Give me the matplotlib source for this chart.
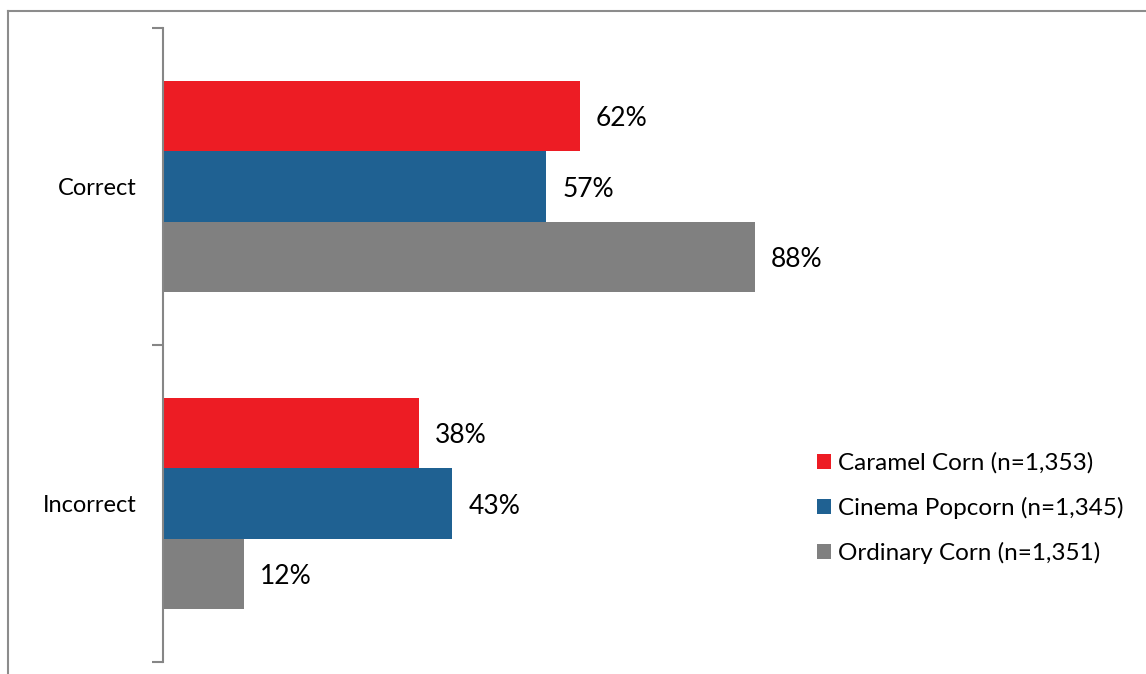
import numpy as np
import matplotlib.pyplot as plt
from matplotlib.lines import Line2D
from matplotlib.patches import Patch

plt.rcParams['font.family'] = ['Lato', 'DejaVu Sans']

categories = ['Correct', 'Incorrect']
series_names = ['Caramel Corn (n=1,353)', 'Cinema Popcorn (n=1,345)', 'Ordinary Corn (n=1,351)']
values = {
    'Caramel Corn (n=1,353)': [62, 38],
    'Cinema Popcorn (n=1,345)': [57, 43],
    'Ordinary Corn (n=1,351)': [88, 12],
}
colors = ['#ED1C24', '#1F6192', '#808080']

W, H = 1146, 674
fig = plt.figure(figsize=(W / 100, H / 100), dpi=100)

# axes placed in pixel terms: y axis at x=163, spanning y=28..662
ax_left, ax_right = 163, 1100
ax_top, ax_bottom = 28, 662
ax = fig.add_axes([ax_left / W, 1 - ax_bottom / H, (ax_right - ax_left) / W, (ax_bottom - ax_top) / H])

px_per_pct = 592 / 88
ax.set_xlim(0, (ax_right - ax_left) / px_per_pct)
ax.set_ylim(len(categories) - 0.5, -0.5)

bar_h = 0.222
y = np.arange(len(categories))
for i, (name, c) in enumerate(zip(series_names, colors)):
    ys = y + (i - 1) * bar_h
    ax.barh(ys, values[name], height=bar_h, color=c, label=name)
    for yy, v in zip(ys, values[name]):
        ax.text(v + 16 / px_per_pct, yy, f'{v}%', va='center_baseline', ha='left',
                fontsize=19, color='black')

# axis styling
for s in ['top', 'right', 'bottom']:
    ax.spines[s].set_visible(False)
ax.spines['left'].set_color('#868686')
ax.spines['left'].set_linewidth(1.5)
ax.set_xticks([])
ax.set_yticks([-0.5, 0.5, 1.5], minor=False)
ax.set_yticklabels([])
ax.tick_params(axis='y', which='major', length=8, width=1.5, color='#868686', direction='out')
ax.set_yticks(y, minor=True)
ax.set_yticklabels(categories, minor=True, fontsize=17)
ax.tick_params(axis='y', which='minor', length=0, pad=19)

# legend
handles = [Patch(facecolor=c, edgecolor='none') for c in colors]
leg = fig.legend(handles, series_names, loc='upper left', bbox_to_anchor=(805 / W, 1 - 440 / H),
                 frameon=False, fontsize=17.5, handlelength=0.58, handleheight=0.58,
                 handletextpad=0.28, labelspacing=0.95, borderpad=0)

# outer chart border (top and left edges)
fig.add_artist(Line2D([8 / W, 8 / W], [0, 1 - 11 / H], color='#8c8c8c', lw=1.5, transform=fig.transFigure))
fig.add_artist(Line2D([8 / W, 1], [1 - 11 / H, 1 - 11 / H], color='#8c8c8c', lw=1.5, transform=fig.transFigure))

fig.savefig('out.png', dpi=100)
